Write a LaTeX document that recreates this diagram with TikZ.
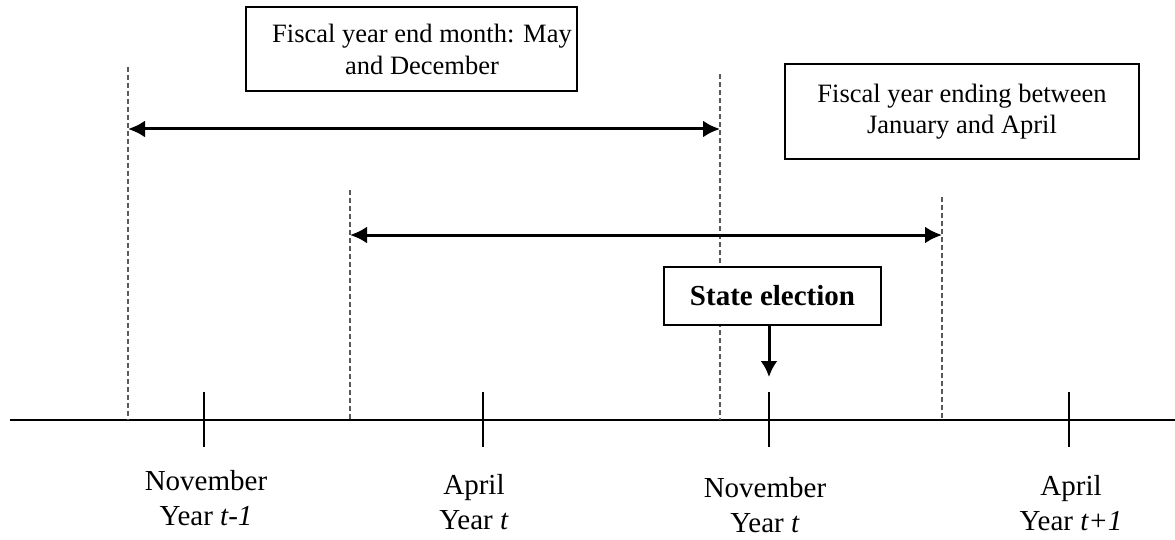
\documentclass[tikz,border=0pt]{standalone}
\usepackage{fontspec}
\setmainfont{Liberation Serif}
\usetikzlibrary{arrows.meta}

\begin{document}
\begin{tikzpicture}[x=1pt,y=-1pt]
\tikzset{box/.style = {draw, line width=1.6pt, fill=white, align=center, inner sep=0pt}}
\tikzset{span/.style = {<->, >={Latex[length=17pt,width=17pt]}, line width=3pt}}
\tikzset{limit/.style = {draw=black!65, line width=1.3pt, dash pattern=on 5pt off 3pt}}
\tikzset{month/.style = {align=center, anchor=base, font=\fontsize{29}{35}\selectfont}}
\useasboundingbox (0,0) rectangle (1175,540);

% time axis and ticks
\coordinate (axl) at (10,420);
\coordinate (axr) at (1175,420);
\draw[line width=1.5pt] (axl) -- (axr);
\foreach \name/\x in {nova/204, apra/483, novb/769, aprb/1069} {
  \coordinate (\name) at (\x,420);
  \draw[line width=1.3pt] ([yshift=-27pt]\name) -- ([yshift=28pt]\name);
}

% fiscal year limits
\coordinate (fa) at (128,67);
\coordinate (fb) at (720,74);
\coordinate (ga) at (350,190);
\coordinate (gb) at (942,197);
\foreach \c in {fa, fb, ga, gb}
  \draw[limit] (\c) -- (\c |- axl);

% fiscal year spans
\coordinate (fal) at (128,129);
\coordinate (fbr) at (720,129);
\coordinate (gal) at (350,235);
\coordinate (gbr) at (942,235);
\draw[span] (fal) -- (fbr);
\draw[span] (gal) -- (gbr);

% boxes
\node[box, minimum width=331pt, minimum height=84pt, font=\fontsize{26.5}{32}\selectfont] (maydec) at (411.5,49)
  {\hspace*{21pt}Fiscal year end month: May\\\hspace*{21pt}and December};
\node[box, minimum width=354pt, minimum height=95pt, font=\fontsize{26.5}{31}\selectfont] (janapr) at (962,111.5)
  {Fiscal year ending between\\January and April};
\node[box, minimum width=217pt, minimum height=58pt, font=\fontsize{29}{35}\selectfont\bfseries] (elec) at (772.5,296)
  {State election};

\coordinate (hit) at (769,377);
\draw[line width=3pt, -{Latex[length=16pt,width=17pt]}] (elec.south -| hit) -- (hit);

% month labels
\node[month] (lnova) at (206,525) {November\\Year \textit{t-1}};
\node[month] (lapra) at (474,529) {April\\Year \textit{t}};
\node[month] (lnovb) at (765,532) {November\\Year \textit{t}};
\node[month] (laprb) at (1071,530) {April\\Year \textit{t+1}};

\end{tikzpicture}
\end{document}
